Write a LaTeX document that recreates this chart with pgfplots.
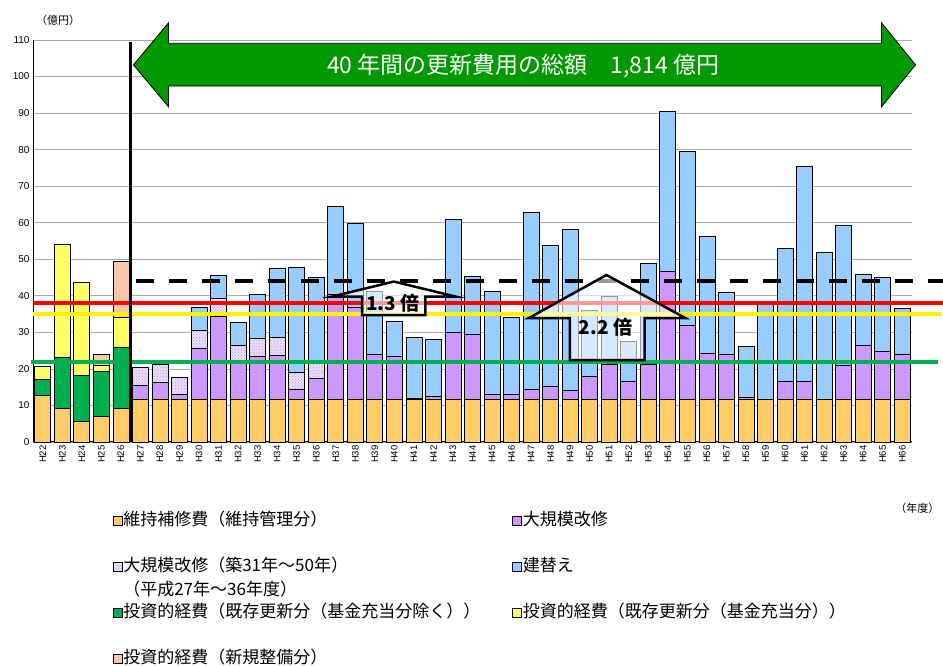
\documentclass[border=0pt]{standalone}
\usepackage{pgfplots}
\pgfplotsset{compat=1.18}
\usepackage{pgfplotstable}
\usetikzlibrary{patterns}
\usepackage{fontspec}
\setmainfont{Liberation Sans}
\newfontfamily\jp{Noto Sans CJK JP}
\definecolor{cOr}{RGB}{255,204,102}
\definecolor{cPu}{RGB}{204,153,255}
\definecolor{cHa}{RGB}{236,224,246}
\definecolor{cHaDot}{RGB}{185,150,215}
\definecolor{cBl}{RGB}{153,204,255}
\definecolor{cGr}{RGB}{0,176,80}
\definecolor{cYe}{RGB}{255,255,102}
\definecolor{cPk}{RGB}{248,200,168}
\definecolor{cArrow}{RGB}{0,153,0}
\definecolor{cGrid}{RGB}{170,170,170}

\pgfplotstableread{
idx lab or pu ha bl gr ye pk
0 H22 12.8 0 0 0 4.3 3.6 0
1 H23 9.1 0 0 0 14.1 31.0 0
2 H24 5.7 0 0 0 12.6 25.4 0
3 H25 6.9 0 0 0 12.4 1.6 3.1
4 H26 9.2 0 0 0 16.8 8.2 15.3
5 H27 11.7 3.9 4.8 0 0 0 0
6 H28 11.7 4.7 4.8 0 0 0 0
7 H29 11.7 1.2 4.8 0 0 0 0
8 H30 11.7 13.9 4.8 6.4 0 0 0
9 H31 11.7 22.7 4.8 6.4 0 0 0
10 H32 11.7 9.9 4.8 6.4 0 0 0
11 H33 11.7 11.8 4.8 12.0 0 0 0
12 H34 11.7 12.1 4.7 19.0 0 0 0
13 H35 11.7 2.7 4.7 28.7 0 0 0
14 H36 11.7 5.6 4.7 23.1 0 0 0
15 H37 11.7 28.6 0 24.1 0 0 0
16 H38 11.7 25.1 0 23.0 0 0 0
17 H39 11.7 12.3 0 17.1 0 0 0
18 H40 11.7 11.7 0 9.5 0 0 0
19 H41 11.7 0.2 0 16.6 0 0 0
20 H42 11.7 0.7 0 15.7 0 0 0
21 H43 11.7 18.2 0 31.0 0 0 0
22 H44 11.7 17.8 0 15.7 0 0 0
23 H45 11.7 1.4 0 28.0 0 0 0
24 H46 11.7 1.4 0 21.1 0 0 0
25 H47 11.7 2.7 0 48.3 0 0 0
26 H48 11.7 3.5 0 38.5 0 0 0
27 H49 11.7 2.3 0 44.2 0 0 0
28 H50 11.7 6.3 0 17.9 0 0 0
29 H51 11.7 9.6 0 18.5 0 0 0
30 H52 11.7 4.8 0 10.9 0 0 0
31 H53 11.7 9.6 0 27.5 0 0 0
32 H54 11.7 34.9 0 43.9 0 0 0
33 H55 11.7 20.3 0 47.6 0 0 0
34 H56 11.7 12.6 0 31.9 0 0 0
35 H57 11.7 12.2 0 16.9 0 0 0
36 H58 11.7 0.5 0 14.0 0 0 0
37 H59 11.7 0 0 26.3 0 0 0
38 H60 11.7 5.0 0 36.3 0 0 0
39 H61 11.7 5.0 0 58.7 0 0 0
40 H62 11.7 0 0 40.1 0 0 0
41 H63 11.7 9.2 0 38.5 0 0 0
42 H64 11.7 14.6 0 19.5 0 0 0
43 H65 11.7 13.0 0 20.4 0 0 0
44 H66 11.7 12.4 0 12.4 0 0 0
}\data

\begin{document}
\begin{tikzpicture}
\path[use as bounding box] (0,0) rectangle (943pt,666pt);
\node[font=\jp\fontsize{11}{12}\selectfont] at (58pt,646pt) {（億円）};
\node[font=\jp\fontsize{11}{12}\selectfont, anchor=east] at (943pt,158pt) {（年度）};
\begin{axis}[
  at={(33pt,224pt)}, anchor=south west,
  scale only axis, width=879pt, height=402pt,
  ybar stacked, bar width=16pt,
  xmin=-0.5, xmax=44.5, ymin=0, ymax=110,
  ytick={0,10,...,110},
  xtick=data, xticklabels from table={\data}{lab},
  x tick label style={rotate=90, anchor=east, font=\fontsize{9.5}{10}\selectfont},
  y tick label style={font=\fontsize{10}{12}\selectfont},
  /pgf/number format/assume math mode=true,
  axis x line*=bottom, axis y line*=left,
  axis line style={line width=1pt, black, -},
  major tick length=0pt,
  ymajorgrids, grid style={cGrid, line width=0.8pt},
  clip=false,
  legend columns=2,
  legend cell align=left,
  legend style={at={(0.087,-0.165)}, anchor=north west, draw=none, fill=none,
    font=\jp\fontsize{17}{19}\selectfont, column sep=0pt, row sep=26pt,
    nodes={inner sep=1pt, text height=14pt, text depth=4pt}},
  legend image code/.code={\draw[#1, line width=0.6pt] (0pt,-4.5pt) rectangle (9pt,4.5pt);},
  after end axis/.append code={
    % reference lines
    \draw[cGr, line width=4pt] (axis cs:-0.62,22.0) -- (axis cs:45.85,22.0);
    \draw[red, line width=4pt] (axis cs:-0.5,38.1) -- (axis cs:46.2,38.1);
    \draw[yellow, line width=4pt] (axis cs:-0.5,35.0) -- (axis cs:45.96,35.0);
    \draw[black, line width=4pt, dash pattern=on 18pt off 15pt] (axis cs:4.75,44.1) -- (axis cs:46.2,44.1);
    % separator
    \draw[black, line width=3.5pt] (axis cs:4.5,0) -- (axis cs:4.5,109.4);
    % big green arrow
    \draw[fill=cArrow, draw=black, line width=0.8pt]
      (axis cs:4.64,103.2) -- (axis cs:6.44,114.7) -- (axis cs:6.44,109.1) -- (axis cs:42.94,109.1)
      -- (axis cs:42.94,114.7) -- (axis cs:44.68,103.2) -- (axis cs:42.94,91.7) -- (axis cs:42.94,97.4)
      -- (axis cs:6.44,97.4) -- (axis cs:6.44,91.7) -- cycle;
    \node[text=white, font=\jp\fontsize{23}{26}\selectfont] at (axis cs:24.6,103.0) {40 年間の更新費用の総額　1,814 億円};
    % 1.3 arrow
    \begin{scope}
    \draw[fill=white, fill opacity=0.6, draw=black, line width=2.5pt, line join=miter]
      (axis cs:14.82,39.8) -- (axis cs:17.97,43.9) -- (axis cs:21.13,39.8) -- (axis cs:19.59,39.8)
      -- (axis cs:19.59,34.7) -- (axis cs:16.35,34.7) -- (axis cs:16.35,39.8) -- cycle;
    \end{scope}
    \node[font=\jp\bfseries\fontsize{19}{20}\selectfont] at (axis cs:17.93,37.9) {1.3 倍};
    % 2.2 arrow
    \begin{scope}
    \draw[fill=white, fill opacity=0.6, draw=black, line width=2.5pt, line join=miter]
      (axis cs:24.88,33.9) -- (axis cs:28.86,45.7) -- (axis cs:32.9,33.9) -- (axis cs:30.81,33.9)
      -- (axis cs:30.81,22.4) -- (axis cs:26.98,22.4) -- (axis cs:26.98,33.9) -- cycle;
    \end{scope}
    \node[font=\jp\bfseries\fontsize{19}{20}\selectfont] at (axis cs:28.81,31.5) {2.2 倍};
  },
]
\addplot[fill=cOr, draw=black, line width=0.8pt] table[x=idx,y=or]{\data};
\addlegendentry{\makebox[388pt][l]{維持補修費（維持管理分）}}
\addplot[fill=cPu, draw=black, line width=0.8pt] table[x=idx,y=pu]{\data};
\addlegendentry{大規模改修}
\addplot[fill=cHa, draw=black, line width=0.8pt, postaction={pattern=crosshatch dots, pattern color=cHaDot}] table[x=idx,y=ha]{\data};
\addlegendentry{\makebox[388pt][l]{\smash{\begin{tabular}[t]{@{}l@{}}大規模改修（築31年～50年）\\[4pt]（平成27年～36年度）\end{tabular}}}}
\addplot[fill=cBl, draw=black, line width=0.8pt] table[x=idx,y=bl]{\data};
\addlegendentry{建替え}
\addplot[fill=cGr, draw=black, line width=0.8pt] table[x=idx,y=gr]{\data};
\addlegendentry{\makebox[388pt][l]{投資的経費（既存更新分（基金充当分除く））}}
\addplot[fill=cYe, draw=black, line width=0.8pt] table[x=idx,y=ye]{\data};
\addlegendentry{投資的経費（既存更新分（基金充当分））}
\addplot[fill=cPk, draw=black, line width=0.8pt] table[x=idx,y=pk]{\data};
\addlegendentry{\makebox[388pt][l]{投資的経費（新規整備分）}}
\end{axis}
\end{tikzpicture}
\end{document}
